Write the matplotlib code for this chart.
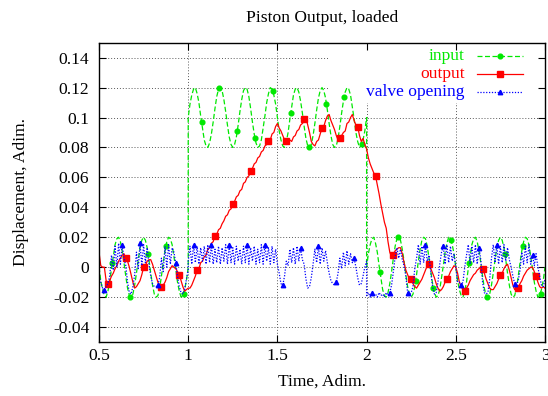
import numpy as np
import matplotlib
matplotlib.use("Agg")
import matplotlib.pyplot as plt
from matplotlib.patches import Rectangle
from matplotlib.lines import Line2D

plt.rcParams['font.family'] = ['Liberation Serif', 'DejaVu Serif']

UNIT = 1e-3  # the series below are listed in thousandths

# time samples: three stretches, the edges repeated so steps draw vertically
t_seg1 = np.linspace(0.5, 1.0, 51)
t_seg2 = np.linspace(1.0, 2.0, 101)
t_seg3 = np.linspace(2.0, 3.0, 101)

input_seg1 = [0, -9, -15, -19, -20, -16, -10, -1, 7, 15, 19, 20, 17, 11, 3, -6, -14, -19, -20, -18,
              -12, -4, 5, 13, 18, 20, 18, 13, 5, -4, -12, -18, -20, -19, -14, -6, 3, 11, 17, 20,
              19, 15, 7, -1, -10, -16, -20, -19, -15, -9, 0]
input_seg2 = [100, 109, 115, 119, 120, 116, 110, 101, 93, 85, 81, 80, 83, 89, 97, 106, 114, 119, 120, 118,
              112, 104, 95, 87, 82, 80, 82, 87, 95, 104, 112, 118, 120, 119, 114, 106, 97, 89, 83, 80,
              81, 85, 93, 101, 110, 116, 120, 119, 115, 109, 100, 91, 85, 81, 80, 84, 90, 99, 107, 115,
              119, 120, 117, 111, 103, 94, 86, 81, 80, 82, 88, 96, 105, 113, 118, 120, 118, 113, 105, 96,
              88, 82, 80, 81, 86, 94, 103, 111, 117, 120, 119, 115, 107, 99, 90, 84, 80, 81, 85, 91, 100]
input_seg3 = [0, 9, 15, 19, 20, 16, 10, 1, -7, -15, -19, -20, -17, -11, -3, 6, 14, 19, 20, 18,
              12, 4, -5, -13, -18, -20, -18, -13, -5, 4, 12, 18, 20, 19, 14, 6, -3, -11, -17, -20,
              -19, -15, -7, 1, 10, 16, 20, 19, 15, 9, 0, -9, -15, -19, -20, -16, -10, -1, 7, 15,
              19, 20, 17, 11, 3, -6, -14, -19, -20, -18, -12, -4, 5, 13, 18, 20, 18, 13, 5, -4,
              -12, -18, -20, -19, -14, -6, 3, 11, 17, 20, 19, 15, 7, -1, -10, -16, -20, -19, -15, -9, 0]

output_seg1 = [10, 1, 0, 0, -9, -11, -9, -6, -4, -1, 1, 4, 6, 8, 9, 6, 4, 0, -5, -10,
               -14, -13, -11, -9, -5, 0, 1, 4, 5, 5, 2, -2, -6, -10, -12, -13, -12, -10, -7, -3,
               -1, 1, 0, -1, -3, -5, -9, -13, -16, -15, -14]
output_seg2 = [-14, -14, -12, -9, -6, -2, -1, 3, 4, 7, 8, 12, 13, 16, 17, 21, 22, 25, 26, 29,
               31, 34, 35, 38, 39, 42, 44, 47, 48, 51, 52, 56, 57, 60, 61, 64, 66, 69, 70, 73,
               74, 77, 78, 81, 82, 84, 85, 89, 90, 94, 96, 93, 91, 88, 85, 84, 83, 85, 84, 87,
               88, 91, 92, 95, 96, 99, 100, 95, 90, 84, 82, 81, 84, 85, 89, 93, 94, 98, 101, 102,
               98, 95, 92, 88, 85, 86, 88, 90, 91, 96, 97, 100, 102, 98, 95, 94, 88, 84, 86, 82, 79]
output_seg3 = [79, 73, 69, 66, 63, 61, 55, 49, 42, 36, 30, 26, 17, 10, 7, 8, 11, 12, 13, 13,
               9, 3, -2, -5, -8, -8, -11, -13, -14, -12, -10, -8, -5, -2, 1, 2, -1, -4, -7, -11,
               -14, -16, -15, -13, -10, -8, -6, -3, -1, 1, 0, -4, -10, -13, -15, -16, -14, -12, -9, -7,
               -5, -4, -2, -1, 0, -1, -4, -8, -11, -14, -15, -15, -13, -11, -8, -5, -4, -1, 1, 2,
               -2, -7, -12, -15, -14, -14, -11, -9, -6, -4, -2, -1, 0, 0, -3, -6, -10, -13, -14, -13, -14]

valve_seg1 = [-6, -10, -14, -15, -13, -11, -6, 8, -2, 14, 0, 16, 2, 15, 6, 1, -10, -17, -18, -13,
              -5, 10, -1, 16, 1, 15, 3, 13, 2, -6, -11, -13, -13, -12, -7, 6, -3, 14, 0, 15,
              2, 13, 10, 3, -6, -13, -17, -18, -15, -8, -2]
valve_seg2 = [4, 14, 2, 15, 3, 14, 2, 13, 4, 14, 2, 15, 3, 15, 2, 12, 3, 14, 2, 13,
              4, 15, 2, 15, 3, 13, 2, 14, 4, 12, 2, 14, 3, 15, 2, 13, 4, 14, 2, 12,
              3, 15, 2, 15, 4, 13, 2, 14, 3, 12, 2, -4, -11, -12, -6, 4, 1, 12, 3, 13,
              2, 14, 4, 13, 5, 2, -8, -14, -13, -7, 2, 12, 3, 14, 2, 13, 4, 11, 3, -4,
              -9, -11, -12, -10, -4, 6, -1, 10, 1, 11, 2, 9, 3, 6, 0, -7, -12, -11, -6, 0, 4]
valve_seg3 = [-19, -17, -20, -17, -19, -18, -20, -17, -19, -18, -20, -17, -19, -17, -12, -3, 7, 13, 6, 12,
              5, 1, -6, -17, -18, -17, -13, -1, 6, 15, 2, 14, 3, 15, 4, 8, -4, -13, -18, -17,
              -10, 2, 10, 14, 2, 15, 3, 14, 4, 9, 0, -10, -10, -12, -10, 0, 8, 15, 2, 14,
              3, 15, 2, 13, 5, -10, -17, -18, -17, -8, 6, 15, 3, 15, 2, 14, 3, 15, 4, 13,
              5, 0, -6, -11, -12, -9, -2, 10, 2, 14, 3, 15, 2, 8, 1, 9, 0, -6, -12, -13, -8]

input_mark_t = np.arange(0.575, 3.0, 0.1)
input_mark_v = [3, -20, 9, 14, -18, 97, 120, 91, 86, 118, 103, 80, 109, 114, 82,
                -3, 20, -9, -14, 18, 3, -20, 9, 14, -18]
output_mark_t = np.arange(0.55, 3.0, 0.1)
valve_mark_t = np.arange(0.53, 3.0, 0.1)

x_ticks = [0.5, 1, 1.5, 2, 2.5, 3]
x_labels = ["0.5", "1", "1.5", "2", "2.5", "3"]
y_ticks = [-0.04, -0.02, 0, 0.02, 0.04, 0.06, 0.08, 0.1, 0.12, 0.14]
y_labels = ["-0.04", "-0.02", "0", "0.02", "0.04", "0.06", "0.08", "0.1", "0.12", "0.14"]

t = np.concatenate([t_seg1, t_seg2, t_seg3])
inp = np.array(input_seg1 + input_seg2 + input_seg3) * UNIT
out = np.array(output_seg1 + output_seg2 + output_seg3) * UNIT
valve = np.array(valve_seg1 + valve_seg2 + valve_seg3) * UNIT


def sample_index(times):
    return [int(np.argmin(np.abs(t - v))) for v in times]


GREEN, RED, BLUE = '#00e800', '#ff0000', '#0000ff'
FS = 12.6

fig = plt.figure(figsize=(5.48, 3.96), dpi=100)
ax = fig.add_axes([99 / 548, 1 - 342 / 396, 446 / 548, 299.3 / 396])
ax.set_xlim(0.5, 3.0)
ax.set_ylim(-0.05, 0.15)

grid_kw = dict(color='#5a5a5a', lw=0.7, ls=(0, (1, 2)), zorder=0.3)
for yv in y_ticks:
    ax.axhline(yv, **grid_kw)
for xv in x_ticks[1:-1]:
    ax.axvline(xv, **grid_kw)

# opaque key area
ax.add_patch(Rectangle((0.5135, 0.7985), 1 - 0.5135, 1 - 0.7985, transform=ax.transAxes,
                       facecolor='white', edgecolor='none', zorder=0.6))

ax.plot(t, inp, color=GREEN, lw=0.9, ls=(0, (4, 2)), zorder=2)
ax.plot(input_mark_t, np.array(input_mark_v) * UNIT, ls='none', marker='o', ms=3.4,
        color=GREEN, zorder=2.1)
ax.plot(t, out, color=RED, lw=0.9, zorder=2.2, marker='s', ms=4.4,
        markevery=sample_index(output_mark_t))
ax.plot(t, valve, color=BLUE, lw=0.9, ls=(0, (1, 1.3)), zorder=2.3, marker='^', ms=3.2,
        markevery=sample_index(valve_mark_t))

ax.set_xticks(x_ticks)
ax.set_xticklabels(x_labels)
ax.set_yticks(y_ticks)
ax.set_yticklabels(y_labels)
ax.tick_params(direction='in', top=True, right=True, length=5, width=0.8, labelsize=FS)
ax.tick_params(axis='x', pad=4)
ax.tick_params(axis='y', pad=7)
for s in ax.spines.values():
    s.set_linewidth(1.0)

ax.set_title("Piston Output, loaded", fontsize=FS, pad=15)
ax.set_xlabel("Time, Adim.", fontsize=FS, labelpad=7)
ax.set_ylabel("Displacement, Adim.", fontsize=FS, labelpad=17)

# key, titles right-justified before the samples
entries = [("input", GREEN, (0, (4, 2)), 'o', 3.4),
           ("output", RED, '-', 's', 4.4),
           ("valve opening", BLUE, (0, (1, 1.3)), '^', 3.2)]
rows = [0.9556, 0.8944, 0.8363]
for (label, col, ls, mk, ms), yk in zip(entries, rows):
    ax.text(0.8206, yk, label, transform=ax.transAxes, ha='right', va='center',
            color=col, fontsize=FS, zorder=3)
    ax.add_line(Line2D([0.8468, 0.899, 0.9513], [yk, yk, yk], transform=ax.transAxes,
                       color=col, lw=0.9, ls=ls, marker=mk, ms=ms, markevery=[1], zorder=3))

fig.savefig("out.png", dpi=100)
